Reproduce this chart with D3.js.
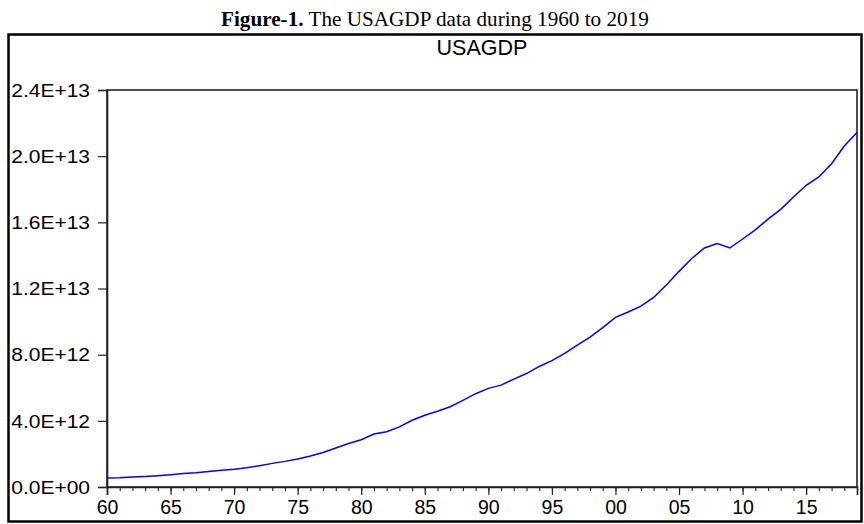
<!DOCTYPE html>
<html>
<head>
<meta charset="utf-8">
<script src="https://cdn.jsdelivr.net/npm/d3@7"></script>
<style>
  html, body { margin: 0; padding: 0; background: #fff; }
  svg { display: block; }
</style>
</head>
<body>
<svg id="chart" width="864" height="524"></svg>
<script>
// US GDP in current US dollars, 1960-2019
const years = d3.range(1960, 2020);
const gdp = [
  5.433e11, 5.633e11, 6.051e11, 6.386e11, 6.858e11, 7.437e11, 8.150e11, 8.617e11, 9.425e11, 1.0199e12,
  1.0752e12, 1.1674e12, 1.2824e12, 1.4285e12, 1.5488e12, 1.6881e12, 1.8771e12, 2.0861e12, 2.3565e12, 2.6323e12,
  2.8573e12, 3.2074e12, 3.3435e12, 3.6342e12, 4.0372e12, 4.3389e12, 4.5794e12, 4.8552e12, 5.2364e12, 5.6410e12,
  5.9631e12, 6.1583e12, 6.5201e12, 6.8588e12, 7.2874e12, 7.6397e12, 8.0732e12, 8.5779e12, 9.0629e12, 9.6308e12,
  1.02523e13, 1.05818e13, 1.09364e13, 1.14580e13, 1.22137e13, 1.30366e13, 1.38149e13, 1.44519e13, 1.47128e13, 1.44489e13,
  1.49921e13, 1.55427e13, 1.61970e13, 1.67848e13, 1.75271e13, 1.82383e13, 1.87451e13, 1.95430e13, 2.06119e13, 2.14332e13
];
const yTickValues = [0, 4e12, 8e12, 1.2e13, 1.6e13, 2.0e13, 2.4e13];
const yTickLabels = ["0.0E+00", "4.0E+12", "8.0E+12", "1.2E+13", "1.6E+13", "2.0E+13", "2.4E+13"];
const xTickYears = [1960, 1965, 1970, 1975, 1980, 1985, 1990, 1995, 2000, 2005, 2010, 2015];
const xTickLabels = ["60", "65", "70", "75", "80", "85", "90", "95", "00", "05", "10", "15"];
const seriesName = "USAGDP";
const captionBold = "Figure-1.";
const captionRest = " The USAGDP data during 1960 to 2019";

const svg = d3.select("#chart");
const plot = { left: 107, right: 857, top: 90, bottom: 487 };

const x = d3.scaleLinear().domain([1960, 2019]).range([plot.left, plot.right]);
const y = d3.scaleLinear().domain([0, 2.4e13]).range([plot.bottom, plot.top]);

// Caption above the framed chart
const cap = svg.append("text")
  .attr("font-family", "'Liberation Serif', 'Times New Roman', serif")
  .attr("font-size", 20)
  .attr("fill", "#000");
cap.append("tspan").attr("font-weight", "bold").text(captionBold);
cap.append("tspan").text(captionRest);
const capW = cap.node().getComputedTextLength();
const capTarget = 428;
cap.attr("transform", `translate(221,26) scale(${capTarget / capW},1)`);

// Outer frame
svg.append("rect")
  .attr("x", 8.5).attr("y", 34.5)
  .attr("width", 853).attr("height", 487)
  .attr("fill", "none").attr("stroke", "#000").attr("stroke-width", 2.5);

// Series title
svg.append("text")
  .attr("x", (plot.left + plot.right) / 2)
  .attr("y", 55)
  .attr("text-anchor", "middle")
  .attr("font-family", "'Liberation Sans', Arial, sans-serif")
  .attr("font-size", 21.5)
  .attr("fill", "#000")
  .text(seriesName);

// Plot box (top and right edges)
svg.append("rect")
  .attr("x", plot.left).attr("y", plot.top)
  .attr("width", plot.right - plot.left).attr("height", plot.bottom - plot.top)
  .attr("fill", "none").attr("stroke", "#222").attr("stroke-width", 1.6);

// Y axis
const yAxis = svg.append("g")
  .attr("transform", `translate(${plot.left},0)`)
  .call(d3.axisLeft(y).tickValues(yTickValues)
    .tickFormat((d, i) => yTickLabels[i]).tickSize(9).tickPadding(0));
yAxis.select(".domain").attr("stroke", "#222").attr("stroke-width", 1.6);
yAxis.selectAll(".tick line").attr("stroke", "#222").attr("stroke-width", 1.2);
yAxis.selectAll(".tick text")
  .attr("x", null)
  .attr("font-family", "'Liberation Sans', Arial, sans-serif")
  .attr("font-size", 17.5)
  .attr("fill", "#000")
  .attr("dy", "0.36em")
  .attr("transform", "translate(-17,0) scale(1.2,1)");

// X axis: minor ticks every year, labelled major ticks every five years
const xMinor = svg.append("g")
  .attr("transform", `translate(0,${plot.bottom})`)
  .call(d3.axisBottom(x).tickValues(years).tickFormat("").tickSize(4));
xMinor.select(".domain").remove();
xMinor.selectAll(".tick line").attr("stroke", "#222").attr("stroke-width", 1.1);

const xAxis = svg.append("g")
  .attr("transform", `translate(0,${plot.bottom})`)
  .call(d3.axisBottom(x).tickValues(xTickYears)
    .tickFormat((d, i) => xTickLabels[i]).tickSize(8).tickPadding(5));
xAxis.select(".domain").attr("stroke", "#222").attr("stroke-width", 1.6);
xAxis.selectAll(".tick line").attr("stroke", "#222").attr("stroke-width", 1.2);
xAxis.selectAll(".tick text")
  .attr("font-family", "'Liberation Sans', Arial, sans-serif")
  .attr("font-size", 19.5)
  .attr("fill", "#000");

// GDP line
const line = d3.line()
  .x((d, i) => x(years[i]))
  .y(d => y(d));
svg.append("path")
  .datum(gdp)
  .attr("d", line)
  .attr("fill", "none")
  .attr("stroke", "#0000ff")
  .attr("stroke-width", 1.5);
</script>
</body>
</html>
